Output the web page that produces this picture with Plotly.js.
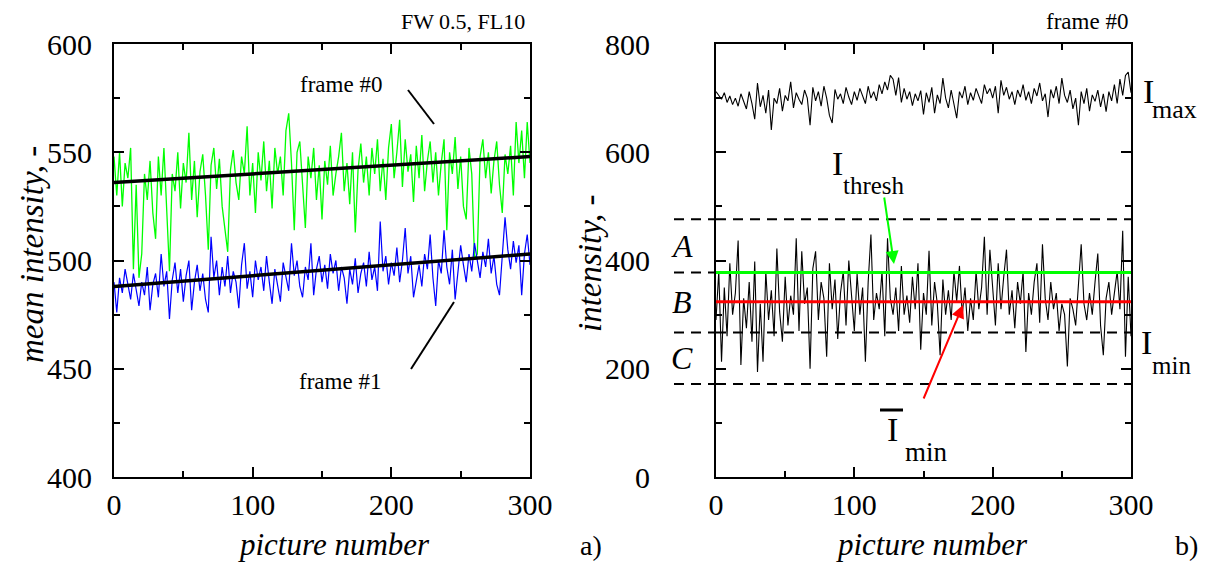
<!DOCTYPE html>
<html><head><meta charset="utf-8">
<script src="https://cdn.plot.ly/plotly-3.0.1.min.js"></script>
<style>html,body{margin:0;padding:0;background:#fff}#chart{width:1207px;height:563px}</style>
</head><body><div id="chart"></div>
<script>
// ---------- data (picture number step 2, 0..300) ----------
const frame0 = [548,530,550,525,545,538,552,496,535,492,
503,540,528,546,522,510,548,530,552,526,
495,540,532,550,524,545,536,559,528,546,
520,541,549,530,505,544,552,533,547,525,
513,504,542,551,536,528,548,540,562,530,
545,522,550,537,555,532,546,524,552,540,
548,530,560,568,545,514,550,555,535,515,
548,538,552,528,544,519,546,535,553,530,
540,548,559,532,545,526,550,513,542,554,
536,548,530,552,540,556,532,547,528,552,
563,538,550,565,534,556,541,549,527,553,
538,558,532,546,555,536,550,530,545,556,
514,550,540,557,533,548,525,519,552,540,
501,503,548,556,538,550,531,546,555,535,
522,549,540,553,530,564,545,560,538,564,
545];
const frame1 = [490,476,492,485,496,488,482,494,486,479,
490,484,497,477,489,494,483,503,488,495,
473,491,499,485,496,481,493,500,477,490,
498,486,494,482,476,511,492,500,484,497,
488,502,485,495,490,478,498,508,487,495,
483,500,491,497,486,502,490,480,496,489,
481,499,492,486,508,493,500,488,483,497,
491,508,484,496,502,490,498,487,503,494,
500,486,497,492,480,496,489,501,485,494,
499,488,504,491,497,486,518,495,502,489,
499,493,506,490,500,515,494,502,483,491,
498,488,503,496,512,492,479,500,494,514,
497,489,505,482,493,507,498,490,503,495,
508,499,492,504,497,510,494,502,489,484,
500,520,505,496,509,499,507,484,503,512,
498];
const fitX = [0, 300];
const fit0 = [536, 548];
const fit1 = [488, 503];

const iMax = [712,705,698,710,692,704,688,700,685,708,
695,680,712,690,661,728,684,705,672,715,
641,700,690,718,676,705,695,730,682,710,
698,688,715,700,650,720,695,712,685,722,
700,668,654,716,698,708,690,720,702,688,
712,696,718,705,690,722,700,712,695,725,
708,730,715,742,735,705,738,692,718,698,
712,686,708,695,714,670,710,692,720,672,
706,690,737,700,682,715,692,663,712,700,
722,688,710,696,718,702,690,725,708,718,
700,722,672,733,705,720,698,712,688,715,
702,725,696,712,690,718,704,728,695,708,
665,716,700,722,690,737,705,692,715,680,
700,650,712,690,718,676,706,694,715,684,
708,675,712,695,725,690,735,705,742,748,
710];
const iMin = [290,380,213,350,260,395,300,340,437,207,
330,275,360,250,398,194,320,213,380,290,
345,260,422,305,250,370,280,335,300,441,
270,417,320,350,200,385,417,290,360,330,
222,395,310,365,255,340,380,280,400,325,
270,375,300,350,213,360,448,290,340,310,
380,260,441,330,300,350,270,390,300,335,
285,370,310,395,235,340,300,418,280,360,
320,225,365,300,345,290,380,325,390,300,
350,270,330,290,380,310,350,444,300,420,
340,280,395,310,370,420,300,345,275,360,
320,380,231,340,300,360,395,285,430,330,
290,360,310,340,270,320,300,204,330,310,
280,350,430,320,290,340,300,360,413,280,
225,330,360,300,340,380,310,455,222,370,
260];
const threshold = 378;
const meanMin = 324;
const bandLevels = [476, 378, 267, 172];
const bandLabels = ['A', 'B', 'C'];

const xTicks = [0, 100, 200, 300];
const yTicksA = [400, 450, 500, 550, 600];
const yTicksB = [0, 200, 400, 600, 800];

// ---------- layout helpers (pixel -> paper) ----------
const W = 1207, H = 563;
const px = v => v / W;
const py = v => 1 - v / H;
const picture = frame0.map((_, i) => i * 2);
const FONT = '"Liberation Serif"';

const traces = [
  {x: picture, y: frame0, xaxis: 'x', yaxis: 'y', mode: 'lines', line: {color: '#00ff00', width: 1.3}},
  {x: picture, y: frame1, xaxis: 'x', yaxis: 'y', mode: 'lines', line: {color: '#0000ff', width: 1.2}},
  {x: fitX, y: fit0, xaxis: 'x', yaxis: 'y', mode: 'lines', line: {color: '#000', width: 3.5}},
  {x: fitX, y: fit1, xaxis: 'x', yaxis: 'y', mode: 'lines', line: {color: '#000', width: 3.5}},
];
bandLevels.forEach(v => traces.push({x: fitX, y: [v, v], xaxis: 'x2', yaxis: 'y2', mode: 'lines',
  line: {color: '#000', width: 2, dash: '10px,7px'}}));
traces.push({x: picture, y: iMax, xaxis: 'x2', yaxis: 'y2', mode: 'lines', line: {color: '#000', width: 1.1}});
traces.push({x: picture, y: iMin, xaxis: 'x2', yaxis: 'y2', mode: 'lines', line: {color: '#000', width: 1.1}});
traces.push({x: fitX, y: [threshold, threshold], xaxis: 'x2', yaxis: 'y2', mode: 'lines', line: {color: '#00ff00', width: 3}});
traces.push({x: fitX, y: [meanMin, meanMin], xaxis: 'x2', yaxis: 'y2', mode: 'lines', line: {color: '#ff0000', width: 3}});

const axisCommon = {
  showline: true, linecolor: '#000', linewidth: 2, mirror: 'ticks',
  ticks: 'inside', ticklen: 10, tickwidth: 2, tickcolor: '#000',
  showgrid: false, zeroline: false, fixedrange: true,
  tickfont: {family: FONT, size: 30, color: '#000'},
};
const yDom = [py(477), py(44)];

const layout = {
  width: W, height: H, showlegend: false,
  margin: {l: 0, r: 0, t: 0, b: 0},
  paper_bgcolor: '#fff', plot_bgcolor: '#fff',
  font: {family: FONT, color: '#000'},
  xaxis: Object.assign({}, axisCommon, {domain: [px(114), px(530)], range: [0, 300], tickvals: xTicks, ticklabelstandoff: 0,
    minor: {dtick: 50, ticks: 'inside', ticklen: 6, tickwidth: 2, tickcolor: '#000'}, anchor: 'y'}),
  yaxis: Object.assign({}, axisCommon, {domain: yDom, range: [400, 600], tickvals: yTicksA, ticklabelstandoff: 14,
    minor: {dtick: 25, ticks: 'inside', ticklen: 6, tickwidth: 2, tickcolor: '#000'}, anchor: 'x'}),
  xaxis2: Object.assign({}, axisCommon, {domain: [px(716), px(1131)], range: [0, 300], tickvals: xTicks, ticklabelstandoff: 0,
    minor: {dtick: 50, ticks: 'inside', ticklen: 6, tickwidth: 2, tickcolor: '#000'}, anchor: 'y2'}),
  yaxis2: Object.assign({}, axisCommon, {domain: yDom, range: [0, 800], tickvals: yTicksB, ticklabelstandoff: 58,
    minor: {dtick: 100, ticks: 'inside', ticklen: 6, tickwidth: 2, tickcolor: '#000'}, anchor: 'x2'}),
  shapes: [],
  annotations: [],
};

// dashed band lines extend a little to the left of the right panel
bandLevels.forEach(v => layout.shapes.push({type: 'line', xref: 'paper', yref: 'y2',
  x0: px(674), x1: px(716), y0: v, y1: v, line: {color: '#000', width: 2, dash: '10px,7px'}}));
// pointer lines for the frame labels
layout.shapes.push({type: 'line', xref: 'paper', yref: 'paper', x0: px(408), y0: py(90), x1: px(434), y1: py(124), line: {color: '#000', width: 2}});
layout.shapes.push({type: 'line', xref: 'paper', yref: 'paper', x0: px(411), y0: py(369), x1: px(454), y1: py(302), line: {color: '#000', width: 2}});
// bar over I-min
layout.shapes.push({type: 'line', xref: 'paper', yref: 'paper', x0: px(880), y0: py(410), x1: px(903), y1: py(410), line: {color: '#000', width: 3}});

function txt(text, x, y, size, opts) {
  return Object.assign({text: text, xref: 'paper', yref: 'paper', x: px(x), y: py(y), showarrow: false,
    xanchor: 'center', yanchor: 'middle', font: {family: FONT, size: size, color: '#000'}}, opts || {});
}
const A = layout.annotations;
A.push(txt('FW 0.5, FL10', 527, 21, 22, {xanchor: 'right'}));
A.push(txt('frame #0', 341, 84, 23));
A.push(txt('frame #1', 340, 381, 23));
A.push(txt('frame #0', 1130, 21, 23, {xanchor: 'right'}));
A.push(txt('a)', 591, 545, 28));
A.push(txt('b)', 1186, 545, 28));
A.push(txt('<i>picture number</i>', 334, 544, 31));
A.push(txt('<i>picture number</i>', 932, 544, 31));
A.push(txt('<i>mean intensity, -</i>', 32, 255, 33, {textangle: -90}));
A.push(txt('<i>intensity, -</i>', 590, 264, 33, {textangle: -90}));
bandLabels.forEach((lab, i) => A.push({text: '<i>' + lab + '</i>', xref: 'paper', yref: 'y2', x: px(682),
  y: (bandLevels[i] + bandLevels[i + 1]) / 2, showarrow: false, xanchor: 'center', yanchor: 'middle',
  font: {family: FONT, size: 32, color: '#000'}}));
A.push(txt('I', 1148, 91, 34));
A.push(txt('max', 1174, 110, 26));
A.push(txt('I', 837, 163, 34));
A.push(txt('thresh', 874, 185, 25));
A.push(txt('I', 1146, 342, 34));
A.push(txt('min', 1171, 365, 25));
A.push(txt('I', 892, 429, 34));
A.push(txt('min', 926, 452, 27));
// arrows
A.push({text: '', xref: 'paper', yref: 'paper', x: px(894), y: py(264), ax: -10, ay: -68, showarrow: true,
  arrowhead: 2, arrowsize: 1.3, arrowwidth: 2, arrowcolor: '#00ff00'});
A.push({text: '', xref: 'paper', yref: 'paper', x: px(963), y: py(305), ax: -40, ay: 95, showarrow: true,
  arrowhead: 2, arrowsize: 1.3, arrowwidth: 2, arrowcolor: '#ff0000'});

Plotly.newPlot('chart', traces, layout, {staticPlot: true, displayModeBar: false});
</script>
</body></html>
